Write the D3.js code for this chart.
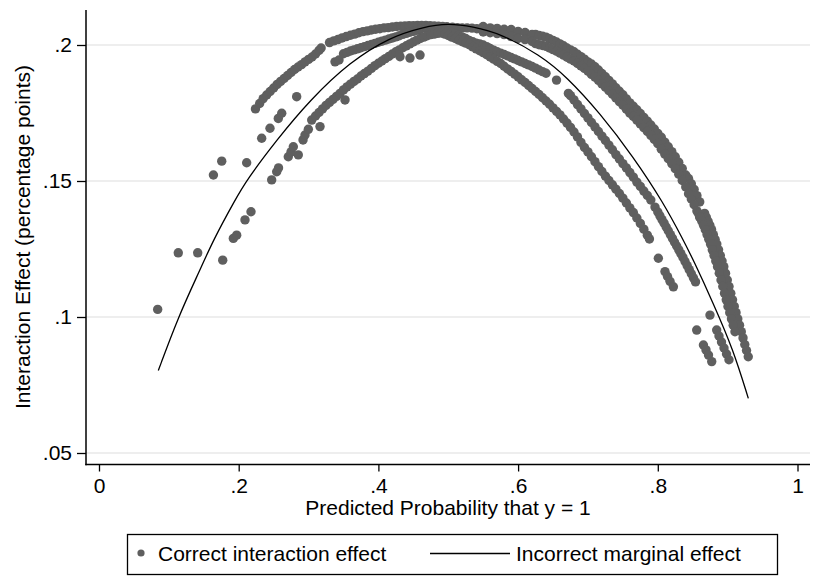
<!DOCTYPE html>
<html lang="en">
<head>
<meta charset="UTF-8">
<title>Interaction effect</title>
<style>
  body { margin: 0; background: #fff; }
  svg { display: block; }
  text { font-family: "Liberation Sans", Arial, sans-serif; fill: #000; }
</style>
</head>
<body>
<svg id="chart" width="821" height="587"></svg>
<script src="https://d3js.org/d3.v7.min.js"></script>
<script>
  // axis ticks
  const xTicks = [0, 0.2, 0.4, 0.6, 0.8, 1];
  const xTickLabels = ["0", ".2", ".4", ".6", ".8", "1"];
  const yTicks = [0.05, 0.1, 0.15, 0.2];
  const yTickLabels = [".05", ".1", ".15", ".2"];

  // correct interaction effect as [prob, effect]
  // band rising on the left and running over the top
  const upperLeftBand = [
    [.224,.1765],[.23,.1785],[.235,.1803],[.24,.1816],[.245,.1829],[.25,.1842],[.255,.1855],[.26,.1866],
    [.265,.1877],[.27,.1888],[.275,.1899],[.28,.1910],[.285,.1919],[.29,.1928],[.295,.1938],[.30,.1947],
    [.305,.1956],[.31,.1967],[.315,.1980],[.318,.1989],
    [.33,.2009],[.336,.2015],[.342,.2020],[.348,.2026],[.354,.2031],[.36,.2036],[.366,.2040],[.372,.2045],
    [.378,.2049],[.384,.2052],[.39,.2055],[.396,.2058],[.402,.2060],[.408,.2063],[.414,.2064],[.42,.2066],
    [.426,.2068],[.432,.2069],[.438,.2070],[.444,.2071],[.45,.2071],[.456,.2072],[.462,.2072],[.468,.2072],
    [.474,.2071],[.48,.2070],[.486,.2069],[.492,.2068],[.498,.2067],[.506,.2065],[.513,.2064],[.52,.2063],
    [.527,.2063],[.534,.2062],[.541,.2060],[.548,.2059]
  ];
  // thick outer band on the right, upper and lower edge of the cloud
  const outerBandA = [
    [.55,.2068],[.56,.2063],[.57,.2061],[.58,.2058],[.59,.2057],[.60,.2050],[.61,.2046],[.62,.2039],
    [.625,.2039],[.63,.2035],[.635,.2032],[.64,.2029],[.645,.2023],[.65,.2017],[.655,.2011],[.66,.2004],
    [.665,.1997],[.67,.1989],[.675,.1982],[.68,.1975],[.685,.1966],[.69,.1957],[.695,.1948],[.70,.1938],
    [.705,.1930],[.71,.1920],[.715,.1908],[.72,.1895],[.725,.1883],[.73,.1870],[.735,.1857],[.74,.1843],
    [.745,.1830],[.75,.1817],[.755,.1802],[.76,.1787],[.765,.1775],[.77,.1762],[.775,.1748],[.78,.1734],
    [.785,.1720],[.79,.1706],[.795,.1691],[.80,.1675],[.805,.1661],[.81,.1643],[.815,.1626],[.82,.1608],
    [.825,.1589],[.83,.1569],[.835,.1546],[.84,.1522],[.844,.1509],[.848,.1490],[.852,.1469],[.856,.1446],
    [.86,.1423],[.867,.1381],[.8695,.1366],[.872,.1352],[.8745,.1337],[.877,.1321],[.8795,.1303],[.882,.1286],
    [.8845,.1268],[.887,.1247],[.8895,.1226],[.892,.1206],[.8945,.1185],[.897,.1161],[.8995,.1136],[.902,.1112],
    [.9045,.1087],[.907,.1063],[.9095,.1039],[.912,.1016],[.9145,.0993],[.917,.0970],[.9195,.0946],[.922,.0923],
    [.9245,.0899],[.927,.0877],[.9295,.0854]
  ];
  const outerBandB = [
    [.55,.2048],[.56,.2045],[.57,.2042],[.58,.2038],[.59,.2031],[.60,.2024],[.61,.2020],[.62,.2013],
    [.625,.2005],[.63,.2001],[.635,.1998],[.64,.1995],[.645,.1989],[.65,.1983],[.655,.1977],[.66,.1970],
    [.665,.1963],[.67,.1955],[.675,.1948],[.68,.1941],[.685,.1932],[.69,.1923],[.695,.1914],[.70,.1904],
    [.705,.1892],[.71,.1882],[.715,.1870],[.72,.1857],[.725,.1845],[.73,.1832],[.735,.1819],[.74,.1805],
    [.745,.1792],[.75,.1779],[.755,.1764],[.76,.1749],[.765,.1737],[.77,.1724],[.775,.1710],[.78,.1696],
    [.785,.1682],[.79,.1668],[.795,.1653],[.80,.1637],[.805,.1617],[.81,.1599],[.815,.1582],[.82,.1564],
    [.825,.1545],[.83,.1525],[.835,.1502],[.84,.1478],[.844,.1453],[.848,.1434],[.852,.1413],[.856,.1390],
    [.86,.1367],[.858,.1381],[.8605,.1366],[.863,.1352],[.8655,.1337],[.868,.1321],[.8705,.1303],[.873,.1286],
    [.8755,.1268],[.878,.1247],[.8805,.1226],[.883,.1206],[.8855,.1185],[.888,.1161],[.8905,.1136],[.893,.1112],
    [.8955,.1087],[.898,.1063],[.9005,.1039],[.903,.1016],[.9055,.0993],[.908,.0970],[.9105,.0946]
  ];
  // band just under the black line
  const middleBand = [
    [.3379,.1938],[.3436,.1945],[.35,.1968],[.355,.1973],[.36,.1978],[.365,.1982],[.37,.1986],[.375,.1990],
    [.38,.1994],[.385,.1998],[.39,.2002],[.395,.2006],[.40,.2010],[.405,.2014],[.41,.2018],[.415,.2022],
    [.42,.2026],[.425,.2030],[.43,.2034],[.435,.2039],[.44,.2043],[.445,.2047],[.45,.2050],[.455,.2054],
    [.46,.2057],[.47,.2059],[.48,.2060],[.49,.2057],[.495,.2055],[.50,.2051],[.505,.2046],[.51,.2040],
    [.515,.2035],[.52,.2030],[.525,.2024],[.53,.2017],[.535,.2012],[.54,.2007],[.545,.2004],[.55,.2000],
    [.555,.1994],[.56,.1987],[.565,.1981],[.57,.1975],[.575,.1970],[.58,.1965],[.585,.1960],[.59,.1954],
    [.595,.1949],[.60,.1943],[.605,.1938],[.61,.1932],[.615,.1927],[.62,.1921],[.625,.1915],[.63,.1908],
    [.635,.1902],[.64,.1896],
    [.655,.1871],
    [.672,.1822],[.675,.1814],[.68,.1798],[.685,.1781],[.69,.1765],[.695,.1748],[.70,.1732],[.705,.1715],
    [.71,.1699],[.715,.1682],[.72,.1665],[.725,.1649],[.73,.1632],[.735,.1615],[.74,.1597],[.745,.1581],
    [.75,.1564],[.755,.1548],[.76,.1531],[.765,.1514],[.77,.1496],[.775,.1480],[.78,.1463],[.785,.1447],
    [.79,.1430],
    [.796,.1404],[.80,.1386],[.803,.1372],[.806,.1358],[.809,.1345],[.812,.1331],[.815,.1317],[.818,.1303],
    [.821,.1289],[.824,.1275],[.827,.1261],[.83,.1247],[.833,.1233],[.836,.1219],[.839,.1204],[.842,.1189],
    [.845,.1174],[.848,.1159],[.851,.1144],[.854,.1129]
  ];
  // lower band on the left, below the black line
  const lowerLeftBand = [
    [.3045,.1724],[.31,.1739],[.315,.1752],[.32,.1765],[.325,.1778],[.33,.1789],[.335,.1800],[.34,.1811],
    [.345,.1822],[.35,.1835],[.355,.1846],[.36,.1856],[.365,.1866],[.37,.1875],[.375,.1886],[.38,.1895],
    [.385,.1904],[.39,.1914],[.395,.1924],[.40,.1933],[.405,.1941],[.41,.1950],[.415,.1958],[.42,.1967],
    [.425,.1975],[.43,.1982],[.435,.1990],[.44,.1997],[.445,.2004],[.45,.2011],[.455,.2018],[.46,.2024],
    [.465,.2029],[.47,.2034],[.475,.2038],[.48,.2040],[.485,.2043]
  ];
  // innermost band on the right
  const innerBand = [
    [.49,.2044],[.495,.2040],[.50,.2035],[.505,.2029],[.51,.2024],[.515,.2018],[.52,.2012],[.525,.2007],
    [.53,.2001],[.535,.1993],[.54,.1986],[.545,.1979],[.55,.1972],[.555,.1964],[.56,.1956],[.565,.1948],
    [.57,.1940],[.575,.1932],[.58,.1922],[.585,.1912],[.59,.1903],[.595,.1893],[.60,.1883],[.605,.1872],
    [.61,.1862],[.615,.1851],[.62,.1840],[.625,.1829],[.63,.1818],[.635,.1806],[.64,.1794],[.645,.1782],
    [.65,.1769],[.655,.1756],[.66,.1743],[.665,.1728],[.67,.1713],[.675,.1697],[.68,.1680],[.685,.1662],
    [.69,.1642],[.695,.1623],[.70,.1607],[.705,.1589],[.71,.1571],[.715,.1553],[.72,.1535],[.725,.1518],
    [.73,.1502],[.735,.1486],[.74,.1470],[.745,.1454],[.75,.1437],[.755,.1419],[.76,.1401],[.765,.1384],
    [.77,.1364],[.775,.1344],[.78,.1323],[.785,.1301],[.788,.1287],
    [.8008,.1216],[.8103,.1167],[.8139,.1149],[.8175,.1131],[.8223,.1111]
  ];
  // scattered single dots
  const looseDots = [
    [.0840,.1028],[.1135,.1236],[.1413,.1236],[.1771,.1209],[.1923,.1289],[.1971,.1301],[.2090,.1357],[.2176,.1387],
    [.1638,.1522],[.1757,.1573],[.2114,.1567],[.2329,.1657],[.2448,.1694],[.2567,.1730],[.2616,.1749],[.2830,.1810],
    [.2472,.1504],[.2544,.1534],[.2570,.1548],[.2710,.1589],[.2749,.1607],[.2782,.1626],[.2853,.1596],[.2921,.1651],
    [.2949,.1669],[.2997,.1690],[.3164,.1700],[.3522,.1798],[.4309,.1957],[.4452,.1952],[.4596,.1963],
    [.8747,.1007],[.8557,.0952],[.8653,.0897],[.8690,.0879],[.8726,.0860],[.8772,.0836],
    [.8843,.0952],[.8876,.0930],[.8912,.0908],[.8948,.0886],[.8984,.0864],[.9019,.0843]
  ];

  // incorrect marginal effect
  const lineProb = [.0849,.1135,.1446,.1636,.1947,.2115,.2544,.3021,.3593,.4166,.4643,.4996,.535,.5741,
    .6314,.6696,.7173,.7649,.8074,.8365,.8508,.8795,.9081,.9296];
  const lineEffect = [.0803,.1001,.1173,.1283,.1430,.1504,.1651,.1798,.1938,.2029,.2066,.2080,.2068,.2043,
    .1963,.1883,.1749,.1589,.1423,.1283,.1210,.1050,.0879,.0701];

  const svg = d3.select("#chart");
  const dotColor = "#5f5f5f";
  const x = d3.scaleLinear().domain([0, 1]).range([99, 797.5]);
  const y = d3.scaleLinear().domain([0.05, 0.2]).range([453, 45]);
  const plotLeft = 86, plotRight = 810, plotTop = 10, plotBottom = 464.5;

  // horizontal grid
  svg.append("g").selectAll("line").data(yTicks).join("line")
    .attr("x1", plotLeft).attr("x2", plotRight)
    .attr("y1", d => y(d)).attr("y2", d => y(d))
    .attr("stroke", "#e9e9e9").attr("stroke-width", 1.5);

  // scatter
  const allDots = [].concat(upperLeftBand, outerBandA, outerBandB, middleBand, lowerLeftBand, innerBand, looseDots);
  svg.append("g").selectAll("circle").data(allDots).join("circle")
    .attr("cx", d => x(d[0])).attr("cy", d => y(d[1]))
    .attr("r", 4.7).attr("fill", dotColor);

  // line
  const lineData = lineProb.map((p, i) => [p, lineEffect[i]]);
  svg.append("path").datum(lineData)
    .attr("fill", "none").attr("stroke", "#000").attr("stroke-width", 1.3)
    .attr("d", d3.line().x(d => x(d[0])).y(d => y(d[1])).curve(d3.curveBasis));

  // axes
  const yAxis = svg.append("g").attr("transform", `translate(${plotLeft},0)`)
    .call(d3.axisLeft(y).tickValues(yTicks).tickFormat((d, i) => yTickLabels[i]).tickSize(9).tickPadding(5));
  const xAxis = svg.append("g").attr("transform", `translate(0,${plotBottom})`)
    .call(d3.axisBottom(x).tickValues(xTicks).tickFormat((d, i) => xTickLabels[i]).tickSize(7).tickPadding(7));
  [yAxis, xAxis].forEach(g => {
    g.select(".domain").remove();
    g.selectAll(".tick line").attr("stroke", "#000").attr("stroke-width", 1.3);
    g.selectAll(".tick text").attr("font-size", 21).attr("font-family", "Liberation Sans, Arial, sans-serif");
  });
  svg.append("line").attr("x1", plotLeft).attr("x2", plotLeft).attr("y1", plotTop).attr("y2", plotBottom + 0.7)
    .attr("stroke", "#000").attr("stroke-width", 1.5);
  svg.append("line").attr("x1", plotLeft - 0.7).attr("x2", plotRight).attr("y1", plotBottom).attr("y2", plotBottom)
    .attr("stroke", "#000").attr("stroke-width", 1.5);

  // axis titles
  svg.append("text").attr("x", 448).attr("y", 514.5).attr("text-anchor", "middle").attr("font-size", 21)
    .text("Predicted Probability that y = 1");
  svg.append("text").attr("transform", "translate(29.5,237) rotate(-90)").attr("text-anchor", "middle")
    .attr("font-size", 21).text("Interaction Effect (percentage points)");

  // legend
  const legend = svg.append("g");
  legend.append("rect").attr("x", 127.5).attr("y", 534.5).attr("width", 650).attr("height", 40)
    .attr("fill", "#fff").attr("stroke", "#000").attr("stroke-width", 1.3);
  legend.append("circle").attr("cx", 141).attr("cy", 553).attr("r", 3.6).attr("fill", dotColor);
  legend.append("text").attr("x", 158).attr("y", 561).attr("font-size", 21).text("Correct interaction effect");
  legend.append("line").attr("x1", 430).attr("x2", 510).attr("y1", 553.5).attr("y2", 553.5)
    .attr("stroke", "#000").attr("stroke-width", 1.5);
  legend.append("text").attr("x", 516).attr("y", 561).attr("font-size", 21).text("Incorrect marginal effect");
</script>
</body>
</html>
